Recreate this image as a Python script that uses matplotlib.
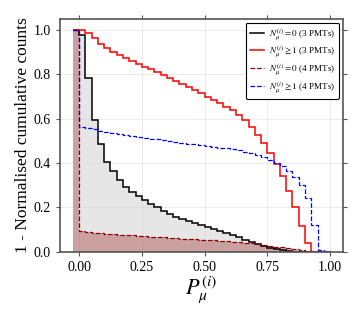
import numpy as np
import matplotlib
matplotlib.use("Agg")
import matplotlib.pyplot as plt

plt.rcParams["font.family"] = ["Liberation Serif", "DejaVu Serif"]
plt.rcParams["mathtext.fontset"] = "stix"

# Bin edges of P_mu^(i)
bin_lo, bin_hi, bin_w = -0.025, 1.0, 0.025
edges = np.linspace(bin_lo, bin_hi, int(round((bin_hi - bin_lo) / bin_w)) + 1)

# 1 - normalised cumulative counts per bin
n0_3pmt = [1.0, 0.977, 0.782, 0.595, 0.485, 0.405, 0.363, 0.324, 0.294, 0.272,
           0.252, 0.234, 0.216, 0.200, 0.185, 0.170, 0.157, 0.146, 0.137, 0.128,
           0.120, 0.112, 0.104, 0.096, 0.087, 0.077, 0.066, 0.055, 0.045, 0.036,
           0.027, 0.019, 0.012, 0.007, 0.003, 0.001, 0.0, 0.0, 0.0, 0.0, 0.0]
n1_3pmt = [1.0, 1.0, 0.985, 0.963, 0.936, 0.918, 0.903, 0.887, 0.872, 0.860,
           0.846, 0.835, 0.823, 0.810, 0.797, 0.782, 0.770, 0.757, 0.745, 0.730,
           0.715, 0.700, 0.685, 0.670, 0.655, 0.640, 0.618, 0.593, 0.563, 0.527,
           0.489, 0.447, 0.395, 0.340, 0.276, 0.200, 0.118, 0.042, 0.0, 0.0, 0.0]
n0_4pmt = [1.0, 0.095, 0.090, 0.087, 0.084, 0.082, 0.080, 0.078, 0.076, 0.074,
           0.072, 0.070, 0.068, 0.067, 0.065, 0.064, 0.062, 0.060, 0.058, 0.057,
           0.055, 0.054, 0.052, 0.050, 0.048, 0.046, 0.044, 0.041, 0.038, 0.035,
           0.031, 0.027, 0.023, 0.020, 0.017, 0.013, 0.009, 0.006, 0.003, 0.001, 0.0]
n1_4pmt = [1.0, 0.565, 0.560, 0.553, 0.547, 0.542, 0.537, 0.533, 0.529, 0.524,
           0.520, 0.515, 0.511, 0.507, 0.503, 0.499, 0.495, 0.492, 0.488, 0.484,
           0.481, 0.478, 0.474, 0.470, 0.466, 0.462, 0.457, 0.452, 0.445, 0.437,
           0.427, 0.414, 0.400, 0.385, 0.365, 0.338, 0.302, 0.242, 0.122, 0.010, 0.002]

labels = [r"$N_{\mu}^{(i)} = 0$ (3 PMTs)",
          r"$N_{\mu}^{(i)} \geq 1$ (3 PMTs)",
          r"$N_{\mu}^{(i)} = 0$ (4 PMTs)",
          r"$N_{\mu}^{(i)} \geq 1$ (4 PMTs)"]

fig = plt.figure(figsize=(3.61, 3.16), dpi=100)
ax = fig.add_axes([0.166, 0.203, 0.784, 0.737])

# fills
ax.stairs(n0_3pmt, edges, fill=True, color="lightgray", alpha=0.55, lw=0)
ax.stairs(n0_4pmt, edges, fill=True, color="darkred", alpha=0.3, lw=0)

# lines
ax.stairs(n0_3pmt, edges, baseline=None, color="black", lw=1.1, label=labels[0])
ax.stairs(n1_3pmt, edges, baseline=None, color="red", lw=1.1, label=labels[1])
ax.stairs(n0_4pmt, edges, baseline=None, color="darkred", lw=0.9, ls="--", label=labels[2])
ax.stairs(n1_4pmt, edges, baseline=None, color="blue", lw=0.9, ls="--", label=labels[3])

ax.set_xlim(-0.07625, 1.05125)
ax.set_ylim(0, 1.05)
ax.set_xticks([0.0, 0.25, 0.5, 0.75, 1.0])
ax.set_yticks([0.0, 0.2, 0.4, 0.6, 0.8, 1.0])
ax.set_xticklabels(["0.00", "0.25", "0.50", "0.75", "1.00"])
ax.set_yticklabels(["0.0", "0.2", "0.4", "0.6", "0.8", "1.0"])
ax.grid(True, color="#e8e8e8", lw=0.6)
ax.set_axisbelow(True)
ax.tick_params(direction="out", top=True, right=True, length=3, width=0.8,
               color="#555555", labelsize=10)
for s in ax.spines.values():
    s.set_color("#555555")
    s.set_linewidth(1.2)

ax.set_xlabel(r"$P_{\mu}^{(i)}$", fontsize=16, labelpad=0)
ax.set_ylabel("1 - Normalised cumulative counts", fontsize=12.5, labelpad=2)

leg = ax.legend(loc="upper right", fontsize=6.6, handlelength=1.6, handletextpad=0.5,
                labelspacing=0.32, borderpad=0.45, fancybox=True, framealpha=1,
                edgecolor="black", borderaxespad=0.4)
leg.get_frame().set_linewidth(0.8)

fig.savefig("out.png", dpi=100)
